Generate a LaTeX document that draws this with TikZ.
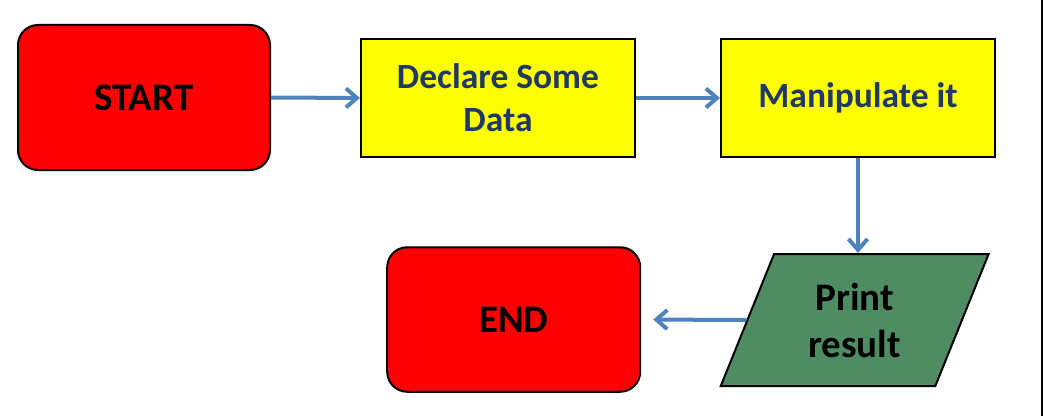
\documentclass[tikz,border=0pt]{standalone}
\usepackage{fontspec}
\setmainfont{Carlito}
\usepackage{tikz}
\usetikzlibrary{shapes.geometric,arrows.meta}

\definecolor{startred}{RGB}{255,0,0}
\definecolor{boxyellow}{RGB}{255,255,0}
\definecolor{printgreen}{RGB}{79,139,99}
\definecolor{textnavy}{RGB}{31,56,100}
\definecolor{flowblue}{RGB}{79,129,189}

\begin{document}
\begin{tikzpicture}[x=1pt,y=1pt,
    terminal/.style={draw, line width=2pt, fill=startred, rounded corners=20pt,
        font=\fontsize{39}{44}\selectfont\bfseries, align=center},
    process/.style={draw, line width=2pt, fill=boxyellow, minimum width=274pt, minimum height=118pt,
        text=textnavy, font=\fontsize{35.5}{43}\selectfont\bfseries, align=center},
    flow/.style={draw=flowblue, line width=4pt, -{Straight Barb[length=11pt,width=19pt]}}]
    \useasboundingbox (0,0) rectangle (1044,416);
    % Top row
    \node[terminal, minimum width=252pt, minimum height=145pt] (start) at (144,318.5) {START};
    \node[process] (declare) at (498,318) {Declare Some\\Data};
    \node[process] (manip) at (858,318) {Manipulate it};
    % Bottom row
    \node[trapezium, trapezium left angle=68, trapezium right angle=112, trapezium stretches=true,
        draw, line width=2pt, fill=printgreen, minimum width=268pt, minimum height=132pt,
        font=\fontsize{39}{47}\selectfont\bfseries, align=center] (print) at (854.7,96) {Print\\result};
    \node[terminal, minimum width=253pt, minimum height=144.5pt] (end) at (513.7,96.5) {END};
    % Arrows
    \draw[flow] (start.east) -- (declare.west);
    \draw[flow] (declare.east) -- (manip.west);
    \draw[flow] (manip.south) -- (manip.south |- print.north);
    \draw[flow, shorten >=12pt] (print.west) -- (end.east);
    % Right edge line
    \draw[line width=2pt] (1042,0) -- (1042,416);
\end{tikzpicture}
\end{document}
